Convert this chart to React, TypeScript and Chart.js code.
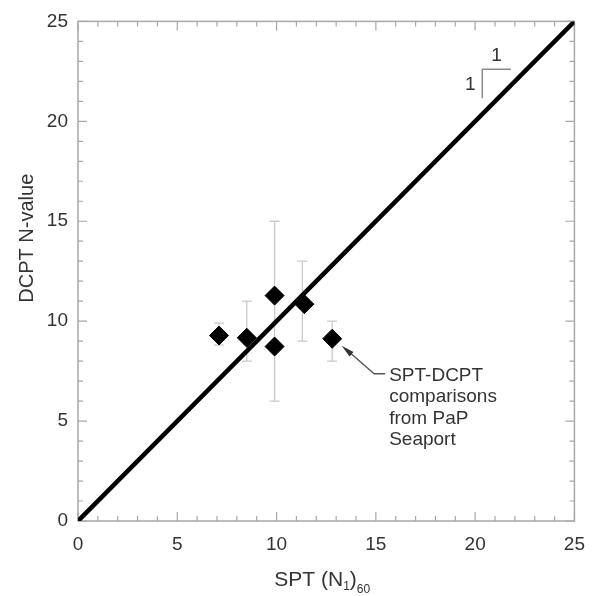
import React, { useEffect, useRef } from "react";
import { Chart, registerables } from "chart.js";

Chart.register(...registerables);

// ---- data ----
const sptX = [7.1, 8.5, 9.9, 9.9, 11.4, 12.8];
const dcptY = [9.28, 9.17, 11.28, 8.73, 10.85, 9.12];
const errX = [7.1, 8.5, 9.9, 11.3, 12.8];
const errLow = [8.8, 8, 6, 9, 8];
const errHigh = [9.9, 11, 15, 13, 10];
const lineX = [0, 25];
const lineY = [0, 25];
const axisTicks = [0, 5, 10, 15, 20, 25];
const minorTicks = [1, 2, 3, 4, 6, 7, 8, 9, 11, 12, 13, 14, 16, 17, 18, 19, 21, 22, 23, 24];
const annotationLines = ["SPT-DCPT", "comparisons", "from PaP", "Seaport"];
const slopeTriangle = { x0: 20.36, x1: 21.8, y0: 22.6, y1: 21.15 };

const FONT = "'Liberation Sans', Arial, Helvetica, sans-serif";
const TEXT = "#333333";

const framePlugin = {
  id: "framePlugin",
  beforeDatasetsDraw(chart: any) {
    const { ctx, chartArea: a, scales } = chart;
    const x = scales.x;
    const y = scales.y;
    ctx.save();
    ctx.strokeStyle = "#a8a8a8";
    ctx.lineWidth = 1.5;
    ctx.strokeRect(a.left, a.top, a.right - a.left, a.bottom - a.top);
    ctx.lineWidth = 1.2;
    const drawTick = (v: number, len: number) => {
      const px = x.getPixelForValue(v);
      const py = y.getPixelForValue(v);
      ctx.beginPath();
      ctx.moveTo(px, a.bottom);
      ctx.lineTo(px, a.bottom - len);
      ctx.moveTo(px, a.top);
      ctx.lineTo(px, a.top + len);
      ctx.moveTo(a.left, py);
      ctx.lineTo(a.left + len, py);
      ctx.moveTo(a.right, py);
      ctx.lineTo(a.right - len, py);
      ctx.stroke();
    };
    minorTicks.forEach((v) => drawTick(v, 5));
    axisTicks.forEach((v) => drawTick(v, 9));

    // error bars
    ctx.strokeStyle = "#c9c9c9";
    ctx.lineWidth = 1.3;
    errX.forEach((ex, i) => {
      const px = x.getPixelForValue(ex);
      const lo = y.getPixelForValue(errLow[i]);
      const hi = y.getPixelForValue(errHigh[i]);
      ctx.beginPath();
      ctx.moveTo(px, lo);
      ctx.lineTo(px, hi);
      ctx.moveTo(px - 5, lo);
      ctx.lineTo(px + 5, lo);
      ctx.moveTo(px - 5, hi);
      ctx.lineTo(px + 5, hi);
      ctx.stroke();
    });
    ctx.restore();
  },
  afterDraw(chart: any) {
    const { ctx, chartArea: a, scales } = chart;
    const x = scales.x;
    const y = scales.y;
    ctx.save();

    // slope triangle
    const t = slopeTriangle;
    ctx.strokeStyle = "#8a8a8a";
    ctx.lineWidth = 1.5;
    ctx.beginPath();
    ctx.moveTo(x.getPixelForValue(t.x1), y.getPixelForValue(t.y0));
    ctx.lineTo(x.getPixelForValue(t.x0), y.getPixelForValue(t.y0));
    ctx.lineTo(x.getPixelForValue(t.x0), y.getPixelForValue(t.y1));
    ctx.stroke();
    ctx.fillStyle = TEXT;
    ctx.font = `19px ${FONT}`;
    ctx.textAlign = "center";
    ctx.textBaseline = "middle";
    ctx.fillText("1", (x.getPixelForValue(t.x0) + x.getPixelForValue(t.x1)) / 2, y.getPixelForValue(t.y0) - 14);
    ctx.fillText("1", x.getPixelForValue(t.x0) - 12, (y.getPixelForValue(t.y0) + y.getPixelForValue(t.y1)) / 2 + 1);

    // annotation arrow + text
    const tx = x.getPixelForValue(sptX[5]);
    const ty = y.getPixelForValue(dcptY[5]);
    const tipX = tx + 9.5;
    const tipY = ty + 7;
    const elbowX = tx + 42;
    const elbowY = ty + 35;
    const endX = elbowX + 11;
    ctx.strokeStyle = "#555";
    ctx.lineWidth = 1.3;
    ctx.beginPath();
    ctx.moveTo(endX, elbowY);
    ctx.lineTo(elbowX, elbowY);
    ctx.lineTo(tipX + 6, tipY + 5);
    ctx.stroke();
    const ang = Math.atan2(tipY - elbowY, tipX - elbowX);
    ctx.fillStyle = "#333";
    ctx.beginPath();
    ctx.moveTo(tipX, tipY);
    ctx.lineTo(tipX - 13 * Math.cos(ang) + 3 * Math.sin(ang), tipY - 13 * Math.sin(ang) - 3 * Math.cos(ang));
    ctx.lineTo(tipX - 13 * Math.cos(ang) - 3 * Math.sin(ang), tipY - 13 * Math.sin(ang) + 3 * Math.cos(ang));
    ctx.closePath();
    ctx.fill();

    ctx.fillStyle = TEXT;
    ctx.font = `19px ${FONT}`;
    ctx.textAlign = "left";
    ctx.textBaseline = "alphabetic";
    annotationLines.forEach((s, i) => {
      ctx.fillText(s, endX + 4, elbowY + 7 + i * 21.5);
    });

    // x title with subscripts
    const big = `21px ${FONT}`;
    const small = `12px ${FONT}`;
    const parts: [string, string, number][] = [
      ["SPT (N", big, 0],
      ["1", small, 4],
      [")", big, 0],
      ["60", small, 7],
    ];
    let total = 0;
    parts.forEach(([s, f]) => {
      ctx.font = f;
      total += ctx.measureText(s).width;
    });
    let cx = (a.left + a.right) / 2 - 4 - total / 2;
    const base = a.bottom + 65;
    parts.forEach(([s, f, dy]) => {
      ctx.font = f;
      ctx.fillText(s, cx, base + dy);
      cx += ctx.measureText(s).width;
    });

    // y title
    ctx.save();
    ctx.translate(33, (a.top + a.bottom) / 2 - 33);
    ctx.rotate(-Math.PI / 2);
    ctx.font = `20px ${FONT}`;
    ctx.textAlign = "center";
    ctx.textBaseline = "alphabetic";
    ctx.fillText("DCPT N-value", 0, 0);
    ctx.restore();

    ctx.restore();
  },
};

export default function App() {
  const ref = useRef<HTMLCanvasElement | null>(null);
  useEffect(() => {
    if (!ref.current) return;
    const chart = new Chart(ref.current, {
      type: "scatter",
      data: {
        datasets: [
          {
            type: "line",
            data: lineX.map((v, i) => ({ x: v, y: lineY[i] })),
            borderColor: "#000",
            borderWidth: 4.5,
            pointRadius: 0,
            borderCapStyle: "round",
            order: 0,
          } as any,
          {
            type: "scatter",
            data: sptX.map((v, i) => ({ x: v, y: dcptY[i] })),
            pointStyle: "rectRot",
            pointRadius: 9.5,
            backgroundColor: "#000",
            borderColor: "#000",
            borderWidth: 1,
            order: 1,
          } as any,
        ],
      },
      options: {
        responsive: false,
        maintainAspectRatio: false,
        devicePixelRatio: 1,
        animation: false,
        layout: { padding: { top: 14, right: 11, left: 0, bottom: 0 } },
        plugins: { legend: { display: false }, tooltip: { enabled: false } },
        scales: {
          x: {
            type: "linear",
            min: 0,
            max: 25,
            afterBuildTicks: (s: any) => {
              s.ticks = axisTicks.map((v) => ({ value: v }));
            },
            afterFit: (s: any) => {
              s.height = 75;
            },
            grid: { display: false, drawTicks: false },
            border: { display: false },
            ticks: {
              font: { family: FONT, size: 19 },
              color: TEXT,
              padding: 12,
              maxRotation: 0,
            },
          },
          y: {
            type: "linear",
            min: 0,
            max: 25,
            afterBuildTicks: (s: any) => {
              s.ticks = axisTicks.map((v) => ({ value: v }));
            },
            afterFit: (s: any) => {
              s.width = 78;
            },
            grid: { display: false, drawTicks: false },
            border: { display: false },
            ticks: {
              font: { family: FONT, size: 19 },
              color: TEXT,
              padding: 10,
            },
          },
        },
      },
      plugins: [framePlugin],
    });
    return () => chart.destroy();
  }, []);
  return (
    <div style={{ position: "absolute", left: 0, top: 0, width: 597, height: 596, background: "#fff" }}>
      <canvas ref={ref} width={597} height={596} style={{ display: "block" }} />
    </div>
  );
}
